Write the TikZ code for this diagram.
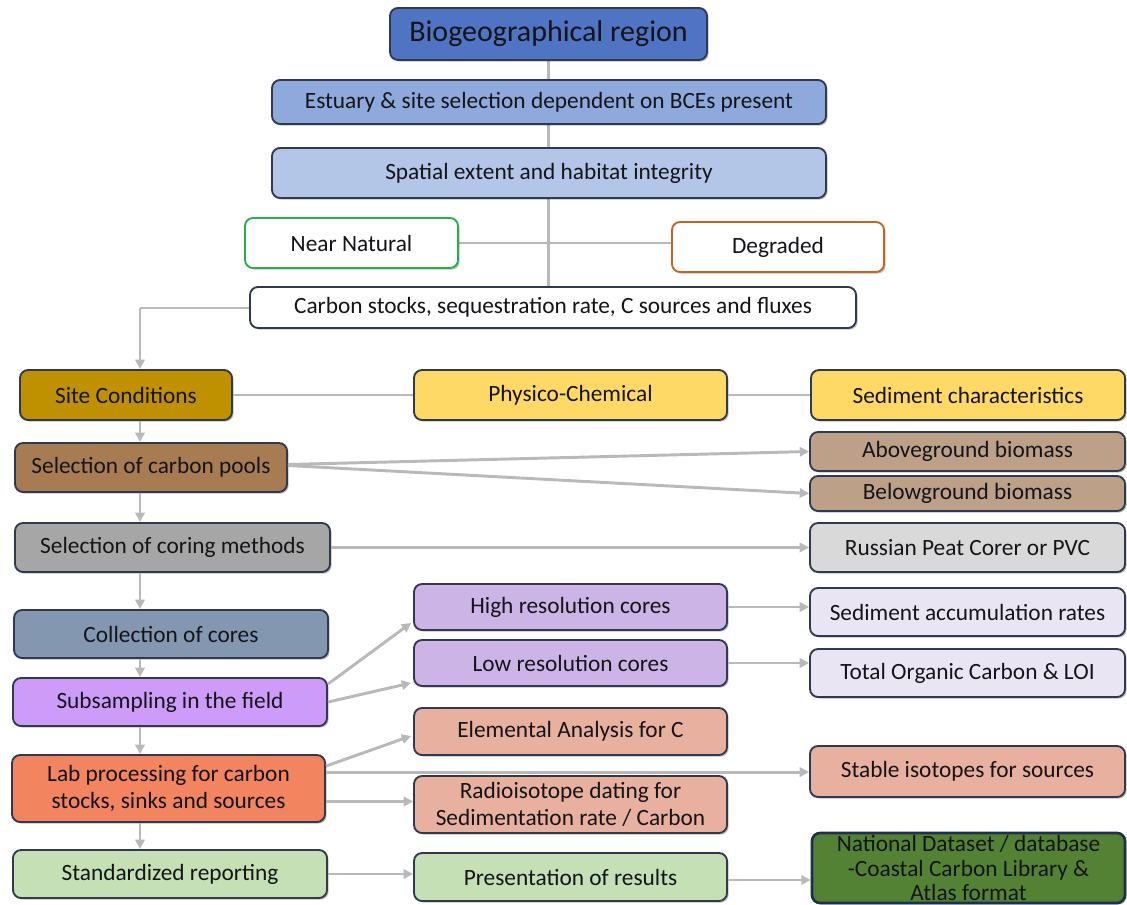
\documentclass[tikz,border=0pt]{standalone}
\usepackage{fontspec}
\setmainfont{Carlito}
\usetikzlibrary{arrows.meta,shadows,backgrounds,calc}
\definecolor{bordc}{RGB}{47,58,80}
\definecolor{txtc}{RGB}{20,20,25}
\definecolor{linec}{RGB}{185,185,185}
\definecolor{biof}{RGB}{79,116,196}
\definecolor{estf}{RGB}{142,169,219}
\definecolor{spaf}{RGB}{180,198,231}
\definecolor{greenb}{RGB}{40,175,75}
\definecolor{orangeb}{RGB}{200,100,30}
\definecolor{sitef}{RGB}{191,144,0}
\definecolor{yelf}{RGB}{255,217,102}
\definecolor{poolf}{RGB}{168,124,82}
\definecolor{biomf}{RGB}{188,160,135}
\definecolor{corf}{RGB}{166,166,166}
\definecolor{russf}{RGB}{217,217,217}
\definecolor{resf}{RGB}{205,180,230}
\definecolor{ratef}{RGB}{233,229,243}
\definecolor{collf}{RGB}{132,151,176}
\definecolor{subf}{RGB}{204,156,248}
\definecolor{labf}{RGB}{242,133,95}
\definecolor{salf}{RGB}{232,176,158}
\definecolor{grnf}{RGB}{197,224,180}
\definecolor{natf}{RGB}{84,130,53}
\definecolor{natb}{RGB}{30,48,80}
\tikzset{
  box/.style={draw=bordc, line width=1.4pt, rounded corners=6pt, inner sep=0pt,
    align=center, text=txtc, font=\fontsize{17.5}{20.5}\selectfont,
    drop shadow={shadow xshift=1.2pt, shadow yshift=-1.2pt, opacity=0.25, fill=black}},
  conn/.style={draw=linec, line width=2.2pt},
  arr/.style={conn, -{Triangle[length=7pt,width=7pt]}},
}
\newcommand{\bx}[7]{% name, fill, cx, cy, w(px), h(px), text
  \node[box, fill=#2, minimum width=#5*0.75pt, minimum height=#6*0.75pt] (#1) at (#3,#4) {#7};}
\begin{document}
\begin{tikzpicture}[x=0.75pt,y=-0.75pt]
\useasboundingbox (0,0) rectangle (1127,905);
\bx{bio}{biof}{548.5}{34}{317}{52}{\fontsize{22.5}{26}\selectfont Biogeographical region}
\bx{est}{estf}{549}{102}{554}{44}{Estuary \& site selection dependent on BCEs present}
\bx{spa}{spaf}{549}{173}{554}{50}{Spatial extent and habitat integrity}
\node[box, fill=white, draw=greenb, minimum width=213*0.75pt, minimum height=50*0.75pt] (near) at (351.5,243) {Near Natural};
\node[box, fill=white, draw=orangeb, minimum width=212*0.75pt, minimum height=50*0.75pt] (deg) at (778,247) {Degraded};
\bx{cs}{white}{553}{307.5}{606}{41}{Carbon stocks, sequestration rate, C sources and fluxes}
\bx{site}{sitef}{126}{395}{212}{50}{Site Conditions}
\bx{phys}{yelf}{570.5}{395}{313}{50}{Physico-Chemical}
\bx{sedc}{yelf}{968}{395}{314}{50}{Sediment characteristics}
\bx{pools}{poolf}{151}{467.5}{272}{49}{Selection of carbon pools}
\bx{above}{biomf}{967.5}{451.5}{315}{39}{Aboveground biomass}
\bx{below}{biomf}{967.5}{493.5}{315}{35}{Belowground biomass}
\bx{coring}{corf}{172.5}{547.5}{315}{49}{Selection of coring methods}
\bx{russ}{russf}{967.5}{547.5}{315}{49}{Russian Peat Corer or PVC}
\bx{high}{resf}{570.5}{607}{313}{46}{High resolution cores}
\bx{low}{resf}{570.5}{663}{313}{46}{Low resolution cores}
\bx{sar}{ratef}{967.5}{612}{315}{48}{Sediment accumulation rates}
\bx{toc}{ratef}{967.5}{673}{315}{48}{Total Organic Carbon \& LOI}
\bx{coll}{collf}{171}{634}{314}{48}{Collection of cores}
\bx{sub}{subf}{170}{702}{314}{48}{Subsampling in the field}
\bx{elem}{salf}{570.5}{731.5}{313}{47}{Elemental Analysis for C}
\bx{lab}{labf}{168.5}{788.5}{313}{67}{Lab processing for carbon\\stocks, sinks and sources}
\bx{stab}{salf}{967.5}{771.5}{315}{51}{Stable isotopes for sources}
\bx{radio}{salf}{570.5}{804.5}{313}{57}{Radioisotope dating for\\Sedimentation rate / Carbon}
\bx{std}{grnf}{170}{874}{314}{48}{Standardized reporting}
\bx{pres}{grnf}{570.5}{877}{313}{48}{Presentation of results}
\node[box, fill=natf, draw=natb, line width=2pt, minimum width=313*0.75pt, minimum height=70*0.75pt, font=\fontsize{17.5}{18.5}\selectfont] (nat) at (968.5,868) {National Dataset / database\\-Coastal Carbon Library \&\\Atlas format};
\coordinate (vx) at (140,0);
\coordinate (bend) at (140,308);
\begin{scope}[on background layer]
\draw[conn] (bio.south) -- (cs.north -| bio.south);
\draw[conn] (near.east) -- (near.east -| deg.west);
\end{scope}
\draw[conn] (cs.west |- bend) -- (bend);
\draw[arr] (bend) -- (site.north -| vx);
\draw[conn] (site.east) -- (phys.west);
\draw[conn] (phys.east) -- (sedc.west);
\draw[arr] ($(pools.east)+(0,-3)$) -- (above.west);
\draw[arr] ($(pools.east)+(0,-2)$) -- (below.west);
\draw[arr] (coring.east) -- (russ.west);
\draw[arr] (high.east) -- (sar.west |- high.east);
\draw[arr] (low.east) -- (toc.west |- low.east);
\draw[arr] ($(sub.north east)+(0,7)$) -- ($(high.south west)+(-2,-8)$);
\draw[arr] ($(sub.north east)+(0,25)$) -- ($(low.south west)+(-2,-4)$);
\draw[arr] ($(lab.north east)+(0,12)$) -- ($(elem.south west)+(-2,-20)$);
\draw[arr] ($(lab.north east)+(0,18)$) -- (stab.west |- {$(lab.north east)+(0,18)$});
\draw[arr] ($(lab.east)+(0,13)$) -- (radio.west |- {$(lab.east)+(0,13)$});
\draw[arr] (std.east) -- (pres.west |- std.east);
\draw[arr] ($(pres.east)+(0,3)$) -- (nat.west |- {$(pres.east)+(0,3)$});
\draw[arr] (site.south -| vx) -- (pools.north -| vx);
\draw[arr] (pools.south -| vx) -- (coring.north -| vx);
\draw[arr] (coring.south -| vx) -- (coll.north -| vx);
\draw[arr] (coll.south -| vx) -- (sub.north -| vx);
\draw[arr] (sub.south -| vx) -- (lab.north -| vx);
\draw[arr] (lab.south -| vx) -- (std.north -| vx);
\end{tikzpicture}
\end{document}
